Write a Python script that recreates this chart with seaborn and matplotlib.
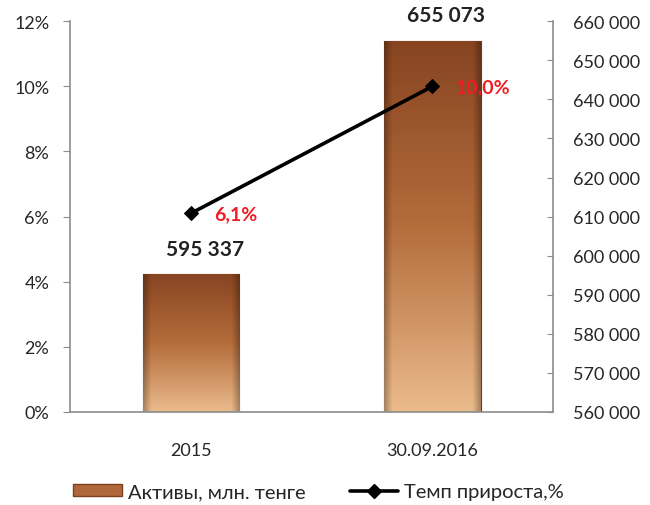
import numpy as np
import pandas as pd
import seaborn as sns
import matplotlib.pyplot as plt
from matplotlib.colors import to_rgb
from matplotlib.lines import Line2D
from matplotlib.patches import Patch

periods = ["2015", "30.09.2016"]
assets = [595337, 655073]
growth = [6.1, 10.0]
asset_labels = ["595 337", "655 073"]
growth_labels = ["6,1%", "10,0%"]

sns.set_style("white")
plt.rcParams['font.family'] = ['Lato', 'DejaVu Sans']

df = pd.DataFrame({"period": periods, "assets": assets, "growth": growth})
df["pos"] = np.arange(len(df))

fig = plt.figure(figsize=(6.5, 5.06), dpi=100)
ax = fig.add_axes([0.108, 0.184, 0.743, 0.772])
ax2 = ax.twinx()

# bars on the right axis
sns.barplot(data=df, x="pos", y="assets", ax=ax2, width=0.4, color="#a65f32")
ax2.set_ylim(560000, 660000)

# gradient fill for the bars
top_c = np.array(to_rgb("#874421"))
mid_c = np.array(to_rgb("#b46c3b"))
bot_c = np.array(to_rgb("#ebbb8c"))
t = np.linspace(0, 1, 200)[:, None]
col = np.where(t < 0.5, bot_c + (mid_c - bot_c) * (t / 0.5), mid_c + (top_c - mid_c) * ((t - 0.5) / 0.5))
u = np.linspace(0, 1, 60)[None, :]
shade = 1 - 0.28 * np.clip(1 - np.minimum(u, 1 - u) / 0.08, 0, 1)
img = col[:, None, :] * shade[:, :, None]
for p in ax2.patches:
    x0 = p.get_x()
    w = p.get_width()
    h = p.get_height()
    im = ax2.imshow(img, extent=[x0, x0 + w, 560000, h], origin="lower", aspect="auto", zorder=2)
    im.set_clip_path(p)
    p.set_facecolor("none")
    p.set_edgecolor("#6b3a1e")
    p.set_linewidth(0.8)

for i, (v, lab) in enumerate(zip(assets, asset_labels)):
    ax2.annotate(lab, (i, v), xytext=(10, 11), textcoords="offset points",
                 ha="center", va="bottom", fontsize=15, fontweight="bold", color="#222222")

# growth line on the left axis
sns.lineplot(data=df, x="pos", y="growth", ax=ax, color="black", linewidth=2.6,
             marker="D", markersize=7, markeredgecolor="black")
for i, (v, lab) in enumerate(zip(growth, growth_labels)):
    ax.annotate(lab, (i, v), xytext=(17, 0), textcoords="offset points",
                ha="left", va="center", fontsize=14, fontweight="bold", color="#f01c24")

ax.set_zorder(ax2.get_zorder() + 1)
ax.patch.set_visible(False)

ax.set_ylim(0, 12)
ax.set_yticks(range(0, 13, 2))
ax.set_yticklabels([f"{v}%" for v in range(0, 13, 2)])
ax.set_xlim(-0.5, 1.5)
ax.set_xticks(df["pos"])
ax.set_xticklabels(periods)
ax.set_xlabel("")
ax.set_ylabel("")
ax2.set_ylabel("")

r_ticks = np.arange(560000, 660001, 10000)
ax2.set_yticks(r_ticks)
ax2.set_yticklabels([f"{v:,}".replace(",", " ") for v in r_ticks])

for s in ["top", "right"]:
    ax.spines[s].set_visible(False)
for s in ["top", "left", "bottom"]:
    ax2.spines[s].set_visible(False)
for s in [ax.spines["left"], ax.spines["bottom"], ax2.spines["right"]]:
    s.set_color("#8c8c8c")
    s.set_linewidth(1.2)

ax.tick_params(axis="y", direction="out", length=5, color="#8c8c8c", pad=10, labelsize=13, left=True)
ax.tick_params(axis="x", length=0, pad=22, labelsize=13)
ax2.tick_params(axis="y", direction="in", length=4, color="#8c8c8c", pad=14, labelsize=13, right=True)

handles = [Patch(facecolor="#b0683a", edgecolor="#7a4020"),
           Line2D([], [], color="black", linewidth=2.6, marker="D", markersize=7)]
fig.legend(handles, ["Активы, млн. тенге", "Темп прироста,%"], loc="center",
           bbox_to_anchor=(0.49, 0.026), ncol=2, frameon=False, fontsize=14.5,
           handlelength=2.4, handleheight=0.5, handletextpad=0.3, columnspacing=2.2)

fig.savefig("out.png", dpi=100)
